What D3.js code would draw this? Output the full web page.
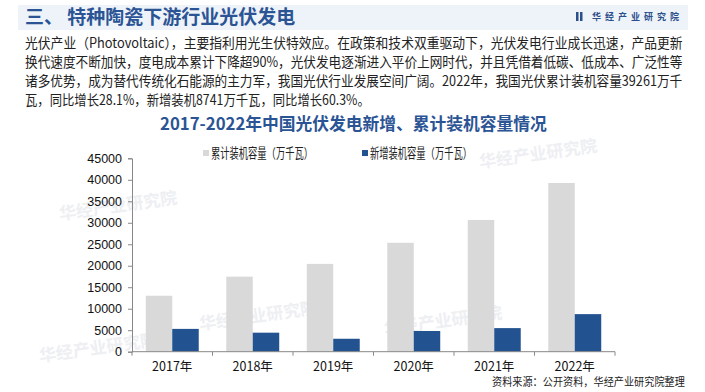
<!DOCTYPE html>
<html>
<head>
<meta charset="utf-8">
<script src="https://cdn.jsdelivr.net/npm/d3@7"></script>
<style>
  body { margin: 0; background: #fff; }
  svg { display: block; font-family: "Noto Sans CJK SC", sans-serif; }
</style>
</head>
<body>
<div id="chart"></div>
<script>
// chart data
const years = ["2017年", "2018年", "2019年", "2020年", "2021年", "2022年"];
const seriesNames = ["累计装机容量（万千瓦）", "新增装机容量（万千瓦）"];
const cumulative = [13025, 17463, 20430, 25343, 30656, 39261];
const added = [5306, 4426, 3011, 4820, 5488, 8741];
const yTicks = [0, 5000, 10000, 15000, 20000, 25000, 30000, 35000, 40000, 45000];
const colors = ["#d9d9d9", "#22528f"];

const paragraph = [
    "光伏产业（Photovoltaic），主要指利用光生伏特效应。在政策和技术双重驱动下，光伏发电行业成长迅速，产品更新",
    "换代速度不断加快，度电成本累计下降超90%，光伏发电逐渐进入平价上网时代，并且凭借着低碳、低成本、广泛性等",
    "诸多优势，成为替代传统化石能源的主力军，我国光伏行业发展空间广阔。2022年，我国光伏累计装机容量39261万千",
    "瓦，同比增长28.1%，新增装机8741万千瓦，同比增长60.3%。"
];
const lineWidths = [658, 658, 658, 345];

const width = 705;
const height = 392;

const svg = d3.select("#chart")
    .append("svg")
    .attr("width", width)
    .attr("height", height);

// squeeze a text horizontally to a given width (keeps glyph height)
function fitText(sel, x, y, target) {
    const w = sel.node().getComputedTextLength();
    sel.attr("transform", `translate(${x},${y}) scale(${target / w},1)`);
}

// faint watermarks
const marks = [[480, 168], [200, 330], [385, 335], [40, 362], [60, 220]];
marks.forEach(m => {
    svg.append("text")
        .attr("x", m[0])
        .attr("y", m[1])
        .attr("transform", `rotate(-8, ${m[0]}, ${m[1]})`)
        .attr("font-size", "17px")
        .attr("font-weight", "bold")
        .attr("fill", "#edeff3")
        .text("华经产业研究院");
});

// header band
svg.append("rect")
    .attr("x", 18).attr("y", 5)
    .attr("width", 670).attr("height", 25)
    .attr("fill", "#eef2f9");

svg.append("text")
    .attr("x", 25).attr("y", 24)
    .attr("font-size", "19px")
    .attr("font-weight", "bold")
    .attr("fill", "#2b5495")
    .text("三、 特种陶瓷下游行业光伏发电");

// logo
svg.append("rect").attr("x", 576).attr("y", 12).attr("width", 2.5).attr("height", 9).attr("fill", "#2b4f8a");
svg.append("rect").attr("x", 580).attr("y", 12).attr("width", 2.5).attr("height", 9).attr("fill", "#2b4f8a");
svg.append("text")
    .attr("x", 592).attr("y", 20)
    .attr("font-size", "9px")
    .attr("font-weight", "bold")
    .attr("fill", "#2b4f8a")
    .attr("letter-spacing", "4px")
    .text("华经产业研究院");

// paragraph
paragraph.forEach((line, i) => {
    const t = svg.append("text")
        .attr("font-size", "14px")
        .attr("fill", "#222")
        .text(line);
    fitText(t, 25, 48 + i * 19, lineWidths[i]);
});

// chart title
const title = svg.append("text")
    .attr("font-size", "17px")
    .attr("font-weight", "bold")
    .attr("fill", "#2b5495")
    .text("2017-2022年中国光伏发电新增、累计装机容量情况");
fitText(title, 160, 130, 387);

// legend
const legendX = [203, 362];
seriesNames.forEach((name, i) => {
    svg.append("rect")
        .attr("x", legendX[i]).attr("y", 150)
        .attr("width", 6).attr("height", 6)
        .attr("fill", colors[i]);
    const t = svg.append("text")
        .attr("font-size", "13.5px")
        .attr("fill", "#222")
        .text(name);
    fitText(t, legendX[i] + 8, 158, 102);
});

// scales
const x0 = d3.scaleBand()
    .domain(years)
    .range([132, 615])
    .padding(0);

const x1 = d3.scaleBand()
    .domain(seriesNames)
    .range([0, x0.bandwidth()])
    .paddingInner(0)
    .paddingOuter(0.52);

const y = d3.scaleLinear()
    .domain([0, 45000])
    .range([351.7, 158.3]);

// bars
const rows = years.map((yr, i) => ({ year: yr, values: [cumulative[i], added[i]] }));

svg.append("g")
    .selectAll("g")
    .data(rows)
    .enter()
    .append("g")
    .attr("transform", d => `translate(${x0(d.year)},0)`)
    .selectAll("rect")
    .data(d => d.values.map((v, j) => ({ key: seriesNames[j], value: v, idx: j })))
    .enter()
    .append("rect")
    .attr("x", d => x1(d.key))
    .attr("y", d => y(d.value))
    .attr("width", x1.bandwidth())
    .attr("height", d => y(0) - y(d.value))
    .attr("fill", d => colors[d.idx]);

// y axis
const yAxis = svg.append("g")
    .attr("transform", "translate(132,0)")
    .call(d3.axisLeft(y).tickValues(yTicks).tickSize(4).tickPadding(6).tickFormat(d3.format("d")));
yAxis.selectAll("path, line").attr("stroke", "#888");
yAxis.selectAll("text")
    .attr("font-family", "'Liberation Sans', Arial, sans-serif")
    .attr("font-size", "12.5px")
    .attr("fill", "#111");

// x axis with ticks at category boundaries
const xAxis = svg.append("g")
    .attr("transform", `translate(0,${y(0)})`);
xAxis.append("line")
    .attr("x1", x0.range()[0]).attr("x2", x0.range()[1])
    .attr("stroke", "#888");
xAxis.selectAll(".bound")
    .data(years.concat(["end"]))
    .enter()
    .append("line")
    .attr("x1", (d, i) => i < years.length ? x0(d) : x0.range()[1])
    .attr("x2", (d, i) => i < years.length ? x0(d) : x0.range()[1])
    .attr("y1", 0).attr("y2", 4)
    .attr("stroke", "#888");
xAxis.selectAll(".lbl")
    .data(years)
    .enter()
    .append("text")
    .attr("x", d => x0(d) + x0.bandwidth() / 2)
    .attr("y", 19)
    .attr("text-anchor", "middle")
    .attr("font-size", "12.5px")
    .attr("fill", "#111")
    .text(d => d);

// source
const src = svg.append("text")
    .attr("font-size", "11px")
    .attr("fill", "#222")
    .text("资料来源：公开资料，华经产业研究院整理");
fitText(src, 492, 386, 193);
</script>
</body>
</html>
